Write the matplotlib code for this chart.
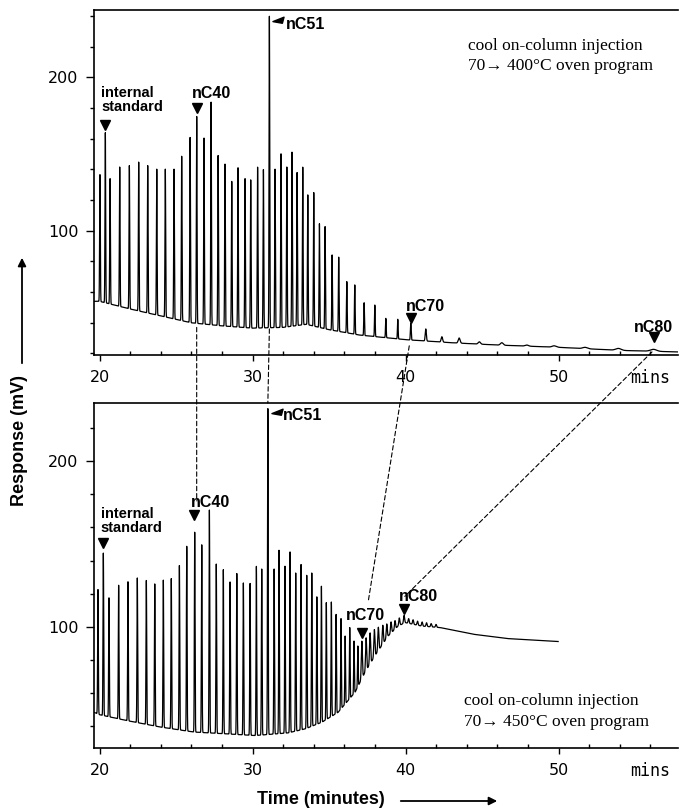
import numpy as np
import matplotlib
matplotlib.use("Agg")
import matplotlib.pyplot as plt
from matplotlib.patches import ConnectionPatch, FancyArrowPatch
from matplotlib.path import Path

# ── DATA ──────────────────────────────────────────────────────────────────────
# upper trace: 70 -> 400 C oven program
top_peak_t = [20.03, 20.38, 20.69, 21.32, 21.95, 22.56, 23.15, 23.74, 24.30, 24.87,
              25.37, 25.92, 26.35, 26.83, 27.29, 27.75, 28.20, 28.64, 29.05, 29.51,
              29.88, 30.33, 30.71, 31.10, 31.47, 31.86, 32.24, 32.58, 32.91, 33.28,
              33.61, 34.00, 34.37, 34.74, 35.20, 35.63, 36.16, 36.68, 37.29, 37.99,
              38.71, 39.49, 40.34, 41.32, 42.37, 43.50, 44.82, 46.29, 47.92, 49.71,
              51.73, 53.91, 56.20]
top_peak_h = [136.6, 164.1, 134.0, 141.6, 142.5, 144.9, 142.5, 140.3, 140.3, 140.3,
              148.6, 161.0, 174.7, 160.6, 183.9, 149.2, 143.6, 132.2, 141.2, 134.0,
              133.3, 141.6, 139.9, 239.9, 140.3, 150.3, 141.6, 151.4, 138.1, 141.6,
              123.5, 125.0, 104.6, 102.8, 84.3, 82.8, 66.9, 64.7, 53.1, 51.6,
              42.9, 42.3, 39.7, 36.0, 30.9, 30.1, 27.6, 27.0, 25.5, 25.0,
              24.0, 23.3, 22.7]
top_base_t = [19.64, 20.0, 22.0, 24.0, 26.0, 28.0, 30.0, 32.0, 33.5, 35.0,
              37.0, 40.0, 43.0, 46.0, 50.0, 54.0, 57.8]
top_base_v = [54, 54, 49, 44.5, 40, 38, 36.5, 37, 39, 35.5,
              32, 29, 27, 25.5, 24, 22, 21]

# lower trace: 70 -> 450 C oven program
bot_peak_t = [19.90, 20.25, 20.62, 21.25, 21.86, 22.47, 23.06, 23.61, 24.17, 24.69,
              25.22, 25.70, 26.22, 26.68, 27.18, 27.63, 28.09, 28.53, 28.97, 29.40,
              29.84, 30.25, 30.60, 31.00, 31.41, 31.73, 32.12, 32.45, 32.82, 33.17,
              33.54, 33.87, 34.20, 34.50, 34.82, 35.15, 35.46, 35.78, 36.05, 36.35,
              36.63, 36.88, 37.14, 37.42, 37.68, 37.96, 38.22, 38.51, 38.77, 39.05,
              39.31, 39.59, 39.90, 40.20, 40.49, 40.78, 41.08, 41.37, 41.67, 41.99]
bot_peak_h = [122.6, 144.6, 117.6, 125.2, 127.2, 129.6, 128.0, 126.0, 128.2, 129.2,
              137.0, 148.6, 157.2, 149.6, 170.6, 138.0, 134.6, 127.2, 132.2, 126.6,
              126.2, 136.6, 135.0, 231.8, 135.0, 146.2, 136.6, 145.2, 132.6, 137.6,
              131.2, 132.6, 118.2, 124.6, 114.6, 115.0, 107.6, 105.0, 94.5, 99.6,
              91.5, 88.5, 91.4, 93.4, 96.4, 98.4, 99.8, 101.0, 101.8, 103.0,
              103.8, 105.4, 107.0, 105.0, 104.3, 103.5, 103.0, 102.5, 102.0, 101.5]
bot_base_t = [19.64, 20.03, 21.8, 24.0, 26.18, 28.33, 30.16, 32.32, 33.43, 34.52,
              35.59, 36.7, 37.35, 38.0, 38.86, 39.51, 39.97, 41.06, 42.26, 44.41,
              46.61, 49.97]
bot_base_v = [48.5, 47.0, 43.5, 39.6, 36.6, 35.5, 34.5, 36.1, 38.5, 42.5,
              48.5, 60.6, 72.6, 82.6, 94.5, 100.5, 102.6, 100.5, 99.6, 95.6,
              93.0, 91.2]

# marked homologues (retention time, minutes)
top_marks = {"IS": 20.38, "nC40": 26.35, "nC51": 31.10, "nC70": 40.34, "nC80": 56.20}
bot_marks = {"IS": 20.25, "nC40": 26.22, "nC51": 31.00, "nC70": 37.14, "nC80": 39.90}


# ── trace builder ─────────────────────────────────────────────────────────────
def trace(t, pk_t, pk_h, b_t, b_v, sig):
    base = np.interp(t, b_t, b_v)
    y = base.copy()
    for tp, hp in zip(pk_t, pk_h):
        amp = hp - np.interp(tp, b_t, b_v)
        y += amp * np.exp(-0.5 * ((t - tp) / sig(tp)) ** 2)
    return y


def sig_top(tp):
    return 0.022 if tp < 40 else 0.022 + 0.011 * (tp - 40)


def sig_bot(tp):
    return 0.022 if tp < 37 else 0.035


t_top = np.arange(top_base_t[0], top_base_t[-1], 0.003)
t_bot = np.arange(bot_base_t[0], bot_base_t[-1], 0.003)
y_top = trace(t_top, top_peak_t, top_peak_h, top_base_t, top_base_v, sig_top)
y_bot = trace(t_bot, bot_peak_t, bot_peak_h, bot_base_t, bot_base_v, sig_bot)

# ── figure ────────────────────────────────────────────────────────────────────
W, H = 679, 809
fig = plt.figure(figsize=(W / 100, H / 100), dpi=100)
ax1 = fig.add_axes([94 / W, 1 - 355 / H, 584 / W, 345 / H])
ax2 = fig.add_axes([94 / W, 1 - 748 / H, 584 / W, 345 / H])

LBL = dict(family="Liberation Sans", weight="bold", color="k")
SERIF = dict(family="Liberation Serif", size=12.5, color="k")

# wedge marker used at nC51 (tip pointing down-left)
wedge = Path([(-1.0, -0.2), (1.0, 0.6), (0.7, -0.5), (-1.0, -0.2)],
             [Path.MOVETO, Path.LINETO, Path.LINETO, Path.CLOSEPOLY])

for ax, t, y, ylim, yminor in [
    (ax1, t_top, y_top, (19, 244), np.arange(20, 241, 20)),
    (ax2, t_bot, y_bot, (27, 235), np.arange(40, 221, 20)),
]:
    ax.plot(t, y, color="k", lw=0.9)
    ax.set_xlim(19.64, 57.8)
    ax.set_ylim(*ylim)
    ax.spines["right"].set_visible(False)
    for s in ("left", "top", "bottom"):
        ax.spines[s].set_linewidth(1.2)
    ax.set_yticks([100, 200])
    ax.set_yticks(yminor, minor=True)
    ax.set_xticks([20, 30, 40, 50])
    ax.set_xticks(np.arange(20, 57, 2), minor=True)
    ax.tick_params(axis="y", which="major", direction="out", length=6, width=1,
                   labelsize=11.5, pad=5)
    ax.tick_params(axis="y", which="minor", direction="out", length=3, width=1)
    ax.tick_params(axis="x", which="major", direction="out", length=4, width=1,
                   labelsize=11.5, pad=7)
    ax.tick_params(axis="x", which="minor", direction="in", length=3, width=1)
    ax.annotate("mins", xy=(56.0, 0), xycoords=("data", "axes fraction"),
                xytext=(0, -10), textcoords="offset points", ha="center",
                va="top", family="DejaVu Sans Mono", size=12)

# ── peak labels, upper ────────────────────────────────────────────────────────
ax1.text(20.10, 176.3, "internal\nstandard", size=10.5, va="bottom", ha="left",
         linespacing=0.95, **LBL)
ax1.plot(20.36, 169.3, marker="v", ms=7, color="k")
ax1.text(26.03, 186.7, "nC40", size=11.5, va="baseline", **LBL)
ax1.plot(26.35, 180.4, marker="v", ms=7, color="k")
ax1.text(32.19, 231.4, "nC51", size=11.5, va="baseline", **LBL)
ax1.plot(31.67, 237.3, marker=wedge, ms=8, color="k")
ax1.text(40.01, 47.7, "nC70", size=11.5, va="baseline", **LBL)
ax1.plot(40.34, 43.0, marker="v", ms=7, color="k")
ax1.text(54.93, 34.2, "nC80", size=11.5, va="baseline", **LBL)
ax1.plot(56.26, 30.9, marker="v", ms=7, color="k")
ax1.text(44.07, 204.6, "cool on-column injection\n70\u2192 400\u00b0C oven program",
         va="baseline", ha="left", linespacing=1.4, **SERIF)

# ── peak labels, lower ────────────────────────────────────────────────────────
ax2.text(20.08, 155.6, "internal\nstandard", size=10.5, va="bottom", ha="left",
         linespacing=0.95, **LBL)
ax2.plot(20.25, 150.6, marker="v", ms=7, color="k")
ax2.text(25.96, 172.6, "nC40", size=11.5, va="baseline", **LBL)
ax2.plot(26.18, 167.6, marker="v", ms=7, color="k")
ax2.text(32.0, 224.6, "nC51", size=11.5, va="baseline", **LBL)
ax2.plot(31.6, 229.4, marker=wedge, ms=8, color="k")
ax2.text(36.09, 104.1, "nC70", size=11.5, va="baseline", **LBL)
ax2.plot(37.14, 96.6, marker="v", ms=7, color="k")
ax2.text(39.58, 115.5, "nC80", size=11.5, va="baseline", **LBL)
ax2.plot(39.90, 110.6, marker="v", ms=7, color="k")
ax2.text(43.82, 40.3, "cool on-column injection\n70\u2192 450\u00b0C oven program",
         va="baseline", ha="left", linespacing=1.4, **SERIF)

# ── dashed correlation lines between the two runs ─────────────────────────────
links = [
    ((top_marks["nC40"], 37), (top_marks["nC40"], 176)),
    ((top_marks["nC51"], 36), (bot_marks["nC51"], 235)),
    ((top_marks["nC70"] - 0.1, 25), (37.55, 114.8)),
    ((top_marks["nC80"] - 0.1, 21), (bot_marks["nC80"] + 0.05, 118.4)),
]
for a, b in links:
    con = ConnectionPatch(xyA=a, coordsA=ax1.transData, xyB=b, coordsB=ax2.transData,
                          linestyle=(0, (4, 2.5)), lw=0.8, color="k")
    fig.add_artist(con)

# ── axis titles with arrows ───────────────────────────────────────────────────
fig.text(20 / W, 1 - 440 / H, "Response (mV)", rotation=90, ha="center", va="center",
         size=13, **LBL)
fig.add_artist(FancyArrowPatch((22 / W, 1 - 366 / H), (22 / W, 1 - 255 / H),
                               transform=fig.transFigure, arrowstyle="-|>",
                               mutation_scale=12, lw=1.3, color="k"))
fig.text(321 / W, 1 - 800 / H, "Time (minutes)", ha="center", va="center",
         size=13, **LBL)
fig.add_artist(FancyArrowPatch((398 / W, 1 - 801 / H), (500 / W, 1 - 801 / H),
                               transform=fig.transFigure, arrowstyle="-|>",
                               mutation_scale=12, lw=1.3, color="k"))

fig.savefig("out.png", dpi=100)
